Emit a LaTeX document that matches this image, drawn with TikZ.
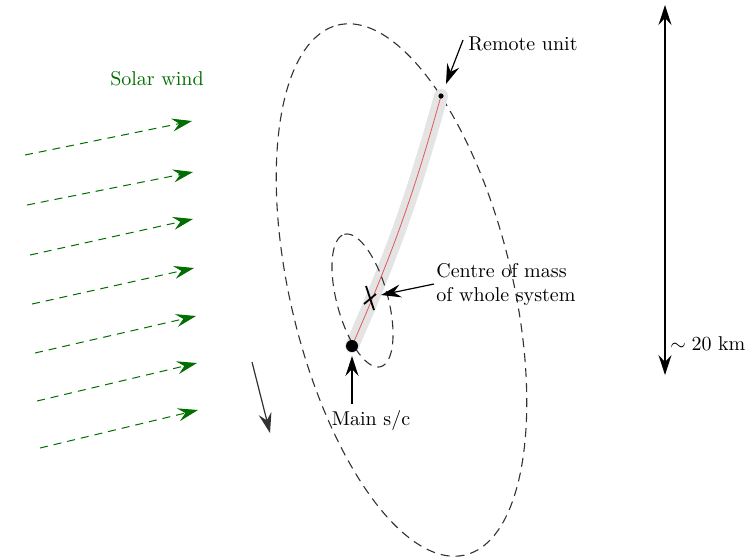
\documentclass[tikz,border=0pt]{standalone}
\usetikzlibrary{arrows.meta}
\definecolor{swgreen}{RGB}{0,110,0}
\definecolor{orbitgray}{RGB}{50,50,50}
\definecolor{bandgray}{RGB}{228,228,228}
\definecolor{tether}{RGB}{225,90,90}
\begin{document}
\begin{tikzpicture}[x=0.5pt,y=-0.5pt,
  tip/.style={-{Stealth[length=10pt,width=6.5pt,inset=3.5pt]}},
  dtip/.style={{Stealth[length=10pt,width=6.5pt,inset=3.5pt]}-{Stealth[length=10pt,width=6.5pt,inset=3.5pt]}},
  orbit/.style={orbitgray, line width=0.55pt, dash pattern=on 4.5pt off 3pt},
  wind/.style={swgreen, line width=0.5pt, dash pattern=on 4pt off 3pt, tip},
  pointer/.style={black, line width=0.6pt, tip},
  lbl/.style={inner sep=1pt, font=\normalsize}]
\useasboundingbox (0,0) rectangle (747,559);

% big orbit (rotated ellipse)
\draw[orbit] plot[domain=0:360, samples=180, smooth]
  ({401.5 - 272.5*sin(13.5)*cos(\x) + 111*cos(13.5)*sin(\x)},
   {290 - 272.5*cos(13.5)*cos(\x) - 111*sin(13.5)*sin(\x)}) -- cycle;

% tether
\coordinate (ms) at (352,346);
\coordinate (ru) at (441,96);
\draw[bandgray, line width=7pt, line cap=round] (ms) to[bend right=4] (ru);
\draw[tether, line width=0.4pt] (ms) to[bend right=4] (ru);

% small orbit
\draw[orbit] plot[domain=0:360, samples=120, smooth]
  ({362.5 - 68.6*sin(15.3)*cos(\x) + 25.5*cos(15.3)*sin(\x)},
   {300.5 - 68.6*cos(15.3)*cos(\x) - 25.5*sin(15.3)*sin(\x)}) -- cycle;

% spacecraft
\node[circle, fill=black, inner sep=0pt, minimum size=6pt] (msdot) at (ms) {};
\node[circle, fill=black, inner sep=0pt, minimum size=2.6pt] (rudot) at (ru) {};

% centre of mass cross
\coordinate (c1) at (366,286);
\coordinate (c2) at (374,310);
\coordinate (c3) at (364,304);
\coordinate (c4) at (376,294);
\draw[line width=0.9pt] (c1) -- (c2);
\draw[line width=0.9pt] (c3) -- (c4);

% labels
\node[lbl, anchor=west] (ruL) at (466,44) {Remote unit};
\node[lbl, anchor=west, align=left] (comL) at (434,284) {Centre of mass\\of whole system};
\node[lbl] (msL) at (371,420) {Main s/c};
\node[lbl, text=swgreen] (swL) at (157,79) {Solar wind};
\node[lbl, anchor=west] (kmL) at (668,344) {$\sim 20$ km};

% pointers
\coordinate (rufrom) at (463,40);
\coordinate (ruto) at (446,84);
\draw[pointer] (rufrom) -- (ruto);
\coordinate (comto) at (381,295);
\draw[pointer] (comL.west) -- (comto);
\coordinate (msfrom) at (352,404);
\coordinate (msto) at (352,356);
\draw[pointer] (msfrom) -- (msto);

% velocity
\coordinate (v1) at (252,362);
\coordinate (v2) at (270,433);
\draw[orbitgray, line width=0.6pt, tip] (v1) -- (v2);

% scale
\coordinate (st) at (665,5);
\coordinate (sb) at (665,375);
\draw[black, line width=0.6pt, dtip] (st) -- (sb);

% solar wind
\foreach \i/\xa/\ya/\xb/\yb in {1/25/155/192/121, 2/27/205/193/172, 3/30/255/193/219,
  4/32/304/194/268, 5/35/353/196/316, 6/37/401/197/363, 7/40/448/198/410}{
  \coordinate (sw\i a) at (\xa,\ya);
  \coordinate (sw\i b) at (\xb,\yb);
  \draw[wind] (sw\i a) -- (sw\i b);
}
\end{tikzpicture}
\end{document}
